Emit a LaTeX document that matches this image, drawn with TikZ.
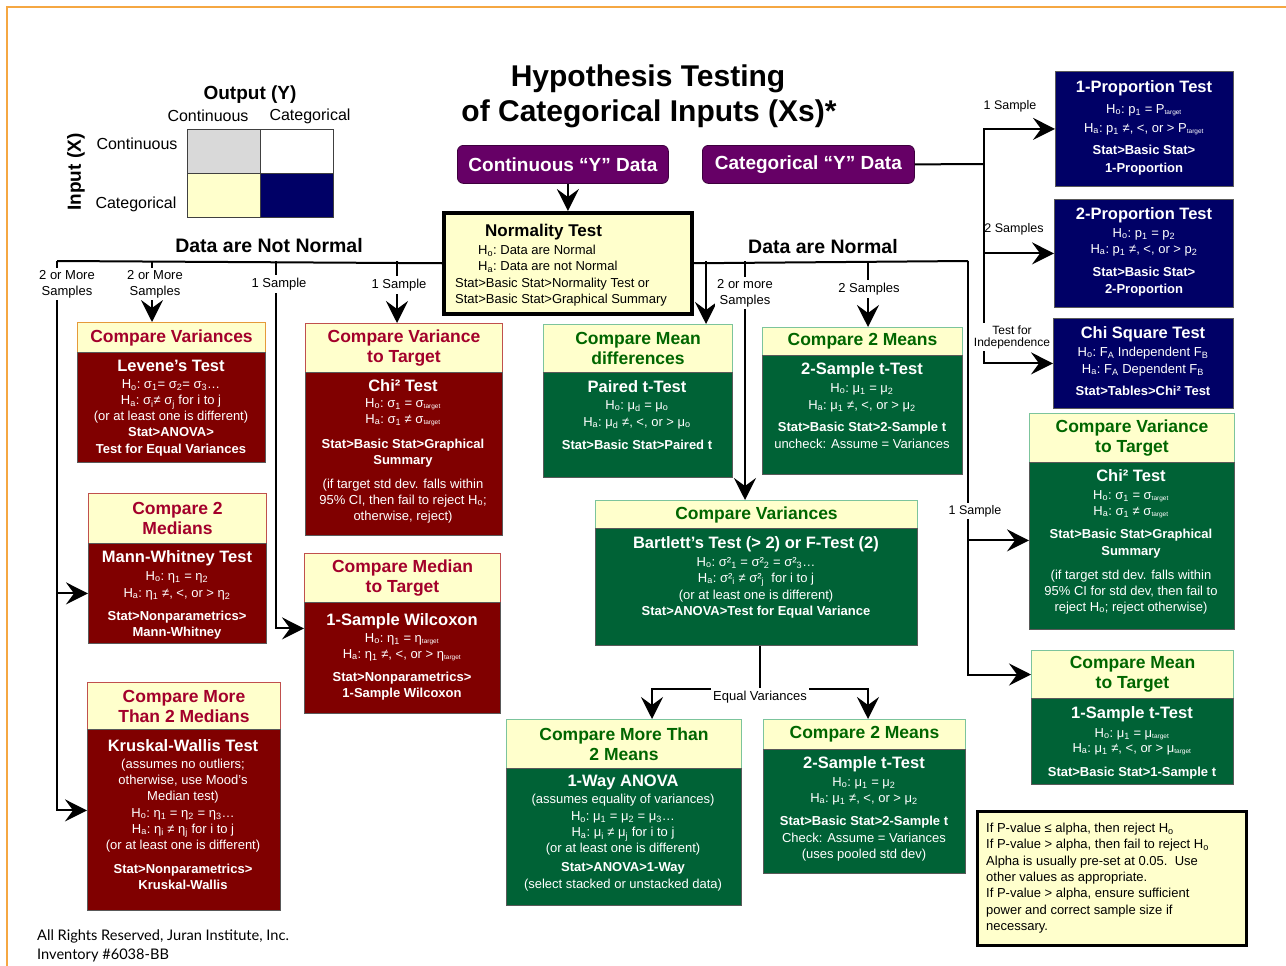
\documentclass[tikz,border=0pt]{standalone}
\usepackage{fontspec}
\setmainfont{Liberation Sans}
\newfontfamily\footfont{Lato}
\usetikzlibrary{arrows.meta}

\definecolor{maroonbody}{HTML}{800000}
\definecolor{crimsontext}{HTML}{A3002B}
\definecolor{redrule}{HTML}{C0504D}
\definecolor{orangerule}{HTML}{E59A3A}
\definecolor{greenbody}{HTML}{006236}
\definecolor{greentext}{HTML}{006600}
\definecolor{greenrule}{HTML}{7CC49C}
\definecolor{navybody}{HTML}{000066}
\definecolor{purplebox}{HTML}{660066}
\definecolor{paleyellow}{HTML}{FFFFCC}
\definecolor{legendgray}{HTML}{D9D9D9}
\definecolor{framecolor}{HTML}{F5A742}

\newcommand\fsz[2]{\fontsize{#1}{#2}\selectfont}
\newcommand\Ho{H\textsubscript{o}:~}
\newcommand\Ha{H\textsubscript{a}:~}
\newcommand\sbs[1]{\textsubscript{#1}}
\newcommand\tgt{\textsubscript{\fsz{6.5}{7}target}}
\newcommand\ttl[1]{{\fsz{16.5}{18}\bfseries #1}}

\tikzset{
  sz/.style 2 args={minimum width=#1pt, minimum height=#2pt},
  conn/.style={line width=2pt, draw=black},
  arr/.style={conn, -{Stealth[length=22pt,width=22pt,inset=8pt]}},
  hdr/.style={draw, line width=1pt, fill=paleyellow, anchor=north west, inner sep=0pt,
              align=center, font=\fsz{17.5}{20}\bfseries},
  redhdr/.style={hdr, draw=redrule, text=crimsontext},
  grnhdr/.style={hdr, draw=greenrule, text=greentext},
  panel/.style={draw=black!65, line width=0.8pt, anchor=north west, inner sep=0pt},
  redpanel/.style={panel, fill=maroonbody},
  grnpanel/.style={panel, fill=greenbody},
  navypanel/.style={panel, fill=navybody},
  ptext/.style={text=white, anchor=north, inner sep=0pt, align=center, font=\fsz{13}{16}},
  lbl/.style={fill=white, inner xsep=2pt, inner ysep=2.5pt, align=center, font=\fsz{13}{16}},
  ybox/.style={draw=purplebox!60!black, line width=0.8pt, fill=purplebox, rounded corners=6pt,
               anchor=north west, inner sep=0pt, text=white, font=\fsz{19}{22}\bfseries},
  cell/.style={draw=black!75, line width=0.8pt, anchor=north west, inner sep=0pt},
}

\begin{document}
\begin{tikzpicture}[x=1pt,y=-1pt]
\useasboundingbox (0,0) rectangle (1286,966);

% page frame
\draw[framecolor, line width=1.5pt] (7,966) -- (7,7) -- (1286,7);

% ---------- legend ----------
\node[font=\fsz{19}{22}\bfseries] (outY) at (250,95) {Output (Y)};
\node[font=\fsz{16}{18}] (colCont) at (208,116) {Continuous};
\node[font=\fsz{16}{18}] (colCat) at (310,116) {Categorical};
\node[font=\fsz{16}{18}] (rowCont) at (137,144) {Continuous};
\node[font=\fsz{16}{18}] (rowCat) at (136,204) {Categorical};
\node[font=\fsz{19}{22}\bfseries, rotate=90] (inX) at (76,172) {Input (X)};
\node[cell, fill=legendgray, sz={73}{44}] (gCC) at (187,129) {};
\node[cell, fill=white, sz={73}{44}] (gCK) at (260,129) {};
\node[cell, fill=paleyellow, sz={73}{44}] (gKC) at (187,173) {};
\node[cell, fill=navybody, sz={73}{44}] (gKK) at (260,173) {};

% ---------- title ----------
\node[font=\fsz{30}{34}\bfseries] (title1) at (648,79) {Hypothesis Testing};
\node[font=\fsz{30}{34}\bfseries] (title2) at (649,114) {of Categorical Inputs (Xs)*};

% ---------- data type boxes ----------
\node[ybox, sz={211}{38}] (contY) at (457,145) {Continuous “Y” Data};
\node[ybox, sz={212}{38}] (catY) at (702,145) {Categorical “Y” Data};

% ---------- normality test ----------
\node[draw=black, line width=3.5pt, fill=paleyellow, anchor=north west, inner sep=0pt, sz={248}{101}] (norm) at (442,211) {};
\node[anchor=north west, inner sep=0pt, align=left, font=\fsz{13}{16}] (normT) at (455,224)
  {\hspace*{30pt}{\fsz{17}{19}\bfseries Normality Test}\\[2pt]
   \hspace*{23pt}\Ho Data are Normal\\
   \hspace*{23pt}\Ha Data are not Normal\\[1pt]
   Stat>Basic Stat>Normality Test or\\
   Stat>Basic Stat>Graphical Summary};

\node[font=\fsz{19.5}{22}\bfseries] (dnn) at (269,246) {Data are Not Normal};
\node[font=\fsz{19.5}{22}\bfseries] (dn) at (823,247) {Data are Normal};

% ---------- non-normal tests (red) ----------
\node[redhdr, draw=orangerule, sz={188}{30}] (cvH) at (77,322) {Compare Variances};
\node[redpanel, sz={188}{110}] (cvB) at (77,352) {};
\node[ptext] (cvT) at (171,360)
  {\ttl{Levene’s Test}\\[1pt]
   \Ho σ\sbs{1}= σ\sbs{2}= σ\sbs{3}…\\
   \Ha σ\sbs{i}≠ σ\sbs{j} for i to j\\
   (or at least one is different)\\
   \textbf{Stat>ANOVA>}\\[1pt]
   \textbf{Test for Equal Variances}};

\node[redhdr, sz={178}{50}] (m2H) at (88,493) {Compare 2\\Medians};
\node[redpanel, sz={178}{100}] (m2B) at (88,543) {};
\node[ptext] (m2T) at (177,550)
  {\ttl{Mann-Whitney Test}\\[2pt]
   \Ho η\sbs{1} = η\sbs{2}\\[1pt]
   \Ha η\sbs{1} ≠, <, or > η\sbs{2}\\[7pt]
   \textbf{Stat>Nonparametrics>}\\
   \textbf{Mann-Whitney}};

\node[redhdr, sz={193}{47}] (m3H) at (87,682) {Compare More\\Than 2 Medians};
\node[redpanel, sz={193}{181}] (m3B) at (87,729) {};
\node[ptext] (m3T) at (183,739)
  {\ttl{Kruskal-Wallis Test}\\[1pt]
   (assumes no outliers;\\
   otherwise, use Mood’s\\
   Median test)\\[1pt]
   \Ho η\sbs{1} = η\sbs{2} = η\sbs{3}…\\
   \Ha η\sbs{i} ≠ η\sbs{j} for i to j\\
   (or at least one is different)\\[8pt]
   \textbf{Stat>Nonparametrics>}\\
   \textbf{Kruskal-Wallis}};

\node[redhdr, sz={197}{49}] (vtH) at (305,323) {Compare Variance\\to Target};
\node[redpanel, sz={197}{163}] (vtB) at (305,372) {};
\node[ptext] (vtT) at (403,379)
  {\ttl{Chi² Test}\\
   \Ho σ\sbs{1} = σ\tgt\\
   \Ha σ\sbs{1} ≠ σ\tgt\\[9pt]
   \textbf{Stat>Basic Stat>Graphical}\\
   \textbf{Summary}\\[8pt]
   (if target std dev. falls within\\
   95\% CI, then fail to reject H\sbs{o};\\
   otherwise, reject)};

\node[redhdr, sz={196}{49}] (mtH) at (304,553) {Compare Median\\to Target};
\node[redpanel, sz={196}{111}] (mtB) at (304,602) {};
\node[ptext] (mtT) at (402,613)
  {\ttl{1-Sample Wilcoxon}\\[1pt]
   \Ho η\sbs{1} = η\tgt\\
   \Ha η\sbs{1} ≠, <, or > η\tgt\\[7pt]
   \textbf{Stat>Nonparametrics>}\\
   \textbf{1-Sample Wilcoxon}};

% ---------- normal tests (green) ----------
\node[grnhdr, sz={189}{48}] (pdH) at (543,324) {Compare Mean\\differences};
\node[grnpanel, sz={189}{105}] (pdB) at (543,372) {};
\node[ptext] (pdT) at (637,380)
  {\ttl{Paired t-Test}\\[1pt]
   \Ho μ\sbs{d} = μ\sbs{o}\\[1pt]
   \Ha μ\sbs{d} ≠, <, or > μ\sbs{o}\\[7pt]
   \textbf{Stat>Basic Stat>Paired t}};

\node[grnhdr, sz={200}{28}] (t2H) at (762,327) {Compare 2 Means};
\node[grnpanel, sz={200}{119}] (t2B) at (762,355) {};
\node[ptext] (t2T) at (862,362)
  {\ttl{2-Sample t-Test}\\[2pt]
   \Ho μ\sbs{1} = μ\sbs{2}\\[1pt]
   \Ha μ\sbs{1} ≠, <, or > μ\sbs{2}\\[6pt]
   \textbf{Stat>Basic Stat>2-Sample t}\\[1pt]
   uncheck: Assume = Variances};

\node[grnhdr, sz={322}{28}] (bvH) at (595,500) {Compare Variances};
\node[grnpanel, sz={322}{117}] (bvB) at (595,528) {};
\node[ptext] (bvT) at (756,536)
  {\ttl{Bartlett’s Test (> 2) or F-Test (2)}\\[2pt]
   \Ho σ²\sbs{1} = σ²\sbs{2} = σ²\sbs{3}…\\
   \Ha σ²\sbs{i} ≠ σ²\sbs{j}\ \ for i to j\\[1pt]
   (or at least one is different)\\
   \textbf{Stat>ANOVA>Test for Equal Variance}};

\node[grnhdr, sz={235}{49}] (anH) at (506,719) {Compare More Than\\2 Means};
\node[grnpanel, sz={235}{137}] (anB) at (506,768) {};
\node[ptext] (anT) at (623,775)
  {\ttl{1-Way ANOVA}\\[1pt]
   (assumes equality of variances)\\[1pt]
   \Ho μ\sbs{1} = μ\sbs{2} = μ\sbs{3}…\\
   \Ha μ\sbs{i} ≠ μ\sbs{j} for i to j\\
   (or at least one is different)\\[3pt]
   \textbf{Stat>ANOVA>1-Way}\\[1pt]
   (select stacked or unstacked data)};

\node[grnhdr, sz={202}{30}] (e2H) at (763,719) {Compare 2 Means};
\node[grnpanel, sz={202}{124}] (e2B) at (763,749) {};
\node[ptext] (e2T) at (864,756)
  {\ttl{2-Sample t-Test}\\[2pt]
   \Ho μ\sbs{1} = μ\sbs{2}\\
   \Ha μ\sbs{1} ≠, <, or > μ\sbs{2}\\[7pt]
   \textbf{Stat>Basic Stat>2-Sample t}\\[1pt]
   Check: Assume = Variances\\
   (uses pooled std dev)};

\node[grnhdr, sz={205}{49}] (rvH) at (1029,413) {Compare Variance\\to Target};
\node[grnpanel, sz={205}{167}] (rvB) at (1029,462) {};
\node[ptext] (rvT) at (1131,469)
  {\ttl{Chi² Test}\\[2pt]
   \Ho σ\sbs{1} = σ\tgt\\
   \Ha σ\sbs{1} ≠ σ\tgt\\[7pt]
   \textbf{Stat>Basic Stat>Graphical}\\[1pt]
   \textbf{Summary}\\[8pt]
   (if target std dev. falls within\\
   95\% CI for std dev, then fail to\\
   reject H\sbs{o}; reject otherwise)};

\node[grnhdr, sz={202}{48}] (rmH) at (1031,650) {Compare Mean\\to Target};
\node[grnpanel, sz={202}{86}] (rmB) at (1031,698) {};
\node[ptext] (rmT) at (1132,706)
  {\ttl{1-Sample t-Test}\\[3pt]
   \Ho μ\sbs{1} = μ\tgt\\[-1pt]
   \Ha μ\sbs{1} ≠, <, or > μ\tgt\\[8pt]
   \textbf{Stat>Basic Stat>1-Sample t}};

% ---------- categorical Y tests (navy) ----------
\node[navypanel, sz={178}{115}] (p1) at (1055,71) {};
\node[ptext] (p1T) at (1144,80)
  {\ttl{1-Proportion Test}\\[5pt]
   \Ho p\sbs{1} = P\tgt\\[3pt]
   \Ha p\sbs{1} ≠, <, or > P\tgt\\[6pt]
   \textbf{Stat>Basic Stat>}\\[2pt]
   \textbf{1-Proportion}};

\node[navypanel, sz={179}{108}] (p2) at (1054,199) {};
\node[ptext] (p2T) at (1144,207)
  {\ttl{2-Proportion Test}\\[2pt]
   \Ho p\sbs{1} = p\sbs{2}\\
   \Ha p\sbs{1} ≠, <, or > p\sbs{2}\\[7pt]
   \textbf{Stat>Basic Stat>}\\[1pt]
   \textbf{2-Proportion}};

\node[navypanel, sz={180}{90}] (chi) at (1053,318) {};
\node[ptext] (chiT) at (1143,326)
  {\ttl{Chi Square Test}\\[2pt]
   \Ho F\sbs{A} Independent F\sbs{B}\\[1pt]
   \Ha F\sbs{A} Dependent F\sbs{B}\\[6pt]
   \textbf{Stat>Tables>Chi² Test}};

% ---------- decision note ----------
\node[draw=black, line width=3pt, fill=paleyellow, anchor=north west, inner sep=0pt, sz={269}{134}] (note) at (976,810) {};
\node[anchor=north west, inner sep=0pt, align=left, font=\fsz{13}{16.3}] (noteT) at (986,823)
  {If P-value ≤ alpha, then reject H\sbs{o}\\
   If P-value > alpha, then fail to reject H\sbs{o}\\
   Alpha is usually pre-set at 0.05.\ \ Use\\
   other values as appropriate.\\
   If P-value > alpha, ensure sufficient\\
   power and correct sample size if\\
   necessary.};

% ---------- footer ----------
\node[anchor=west, inner sep=0pt, font=\footfont\fsz{14.6}{17}] (foot1) at (37,936) {All Rights Reserved, Juran Institute, Inc.};
\node[anchor=west, inner sep=0pt, font=\footfont\fsz{14.6}{17}] (foot2) at (37,955) {Inventory \#6038-BB};

% ---------- connectors ----------
\draw[arr] ([xshift=5pt]contY.south) -- ([xshift=5pt]contY.south |- norm.north);

% categorical branch
\coordinate (cj) at (984,164);
\draw[conn] (catY.east) -- (cj);
\draw[arr] (cj) |- (p1.west);
\draw[arr] (cj) |- (p2.west);
\draw[arr] (cj) |- (chi.west);

% non-normal branch
\coordinate (nn) at (57,261);
\coordinate (nb) at (152,261);
\coordinate (nc) at (276,261);
\coordinate (nd) at (397,261);
\draw[conn] (norm.west) -- (nn);
\draw[arr] (nn) |- (m2B.west);
\draw[arr] (nn) |- ([yshift=9.5pt]m3B.west);
\draw[arr] (nb) -- (nb |- cvH.north);
\draw[arr] (nc) |- ([yshift=29.5pt]mtB.west);
\draw[arr] (nd) -- (nd |- vtH.north);

% normal branch
\coordinate (rj) at (968,261);
\coordinate (na) at (706,261);
\coordinate (nm) at (745,261);
\coordinate (n2) at (868,261);
\draw[conn] (norm.east) -- (rj);
\draw[arr] (rj) |- ([yshift=5.5pt]rvB.west);
\draw[arr] (rj) |- (rmH.west);
\draw[arr] (na) -- (na |- pdH.north);
\draw[arr] (nm) -- (nm |- bvH.north);
\draw[arr] (n2) -- (n2 |- t2H.north);

% equal variances split
\coordinate (ev) at (760,689);
\coordinate (evL) at (652,689);
\coordinate (evR) at (868,689);
\draw[conn] (ev |- bvB.south) -- (ev);
\draw[arr] (ev) -- (evL) -- (evL |- anH.north);
\draw[arr] (ev) -- (evR) -- (evR |- e2H.north);

% ---------- connector labels ----------
\node[lbl, font=\fsz{12.5}{14}] (l1s) at (1010,106) {1 Sample};
\node[font=\fsz{12.5}{14}, inner sep=0pt] (l2s) at (1014,229) {2 Samples};
\node[lbl, font=\fsz{12}{12}] (lti) at (1012,337) {Test for\\Independence};
\node[lbl] (lnA) at (67,284) {2 or More\\Samples};
\node[lbl] (lnB) at (155,284) {2 or More\\Samples};
\node[lbl] (lnC) at (279,284) {1 Sample};
\node[lbl] (lnD) at (399,285) {1 Sample};
\node[lbl] (lyA) at (745,293) {2 or more\\Samples};
\node[lbl] (lyB) at (869,289) {2 Samples};
\node[lbl, font=\fsz{12.5}{14}] (lyC) at (975,511) {1 Sample};
\node[lbl] (lev) at (760,697) {Equal Variances};

\end{tikzpicture}
\end{document}
